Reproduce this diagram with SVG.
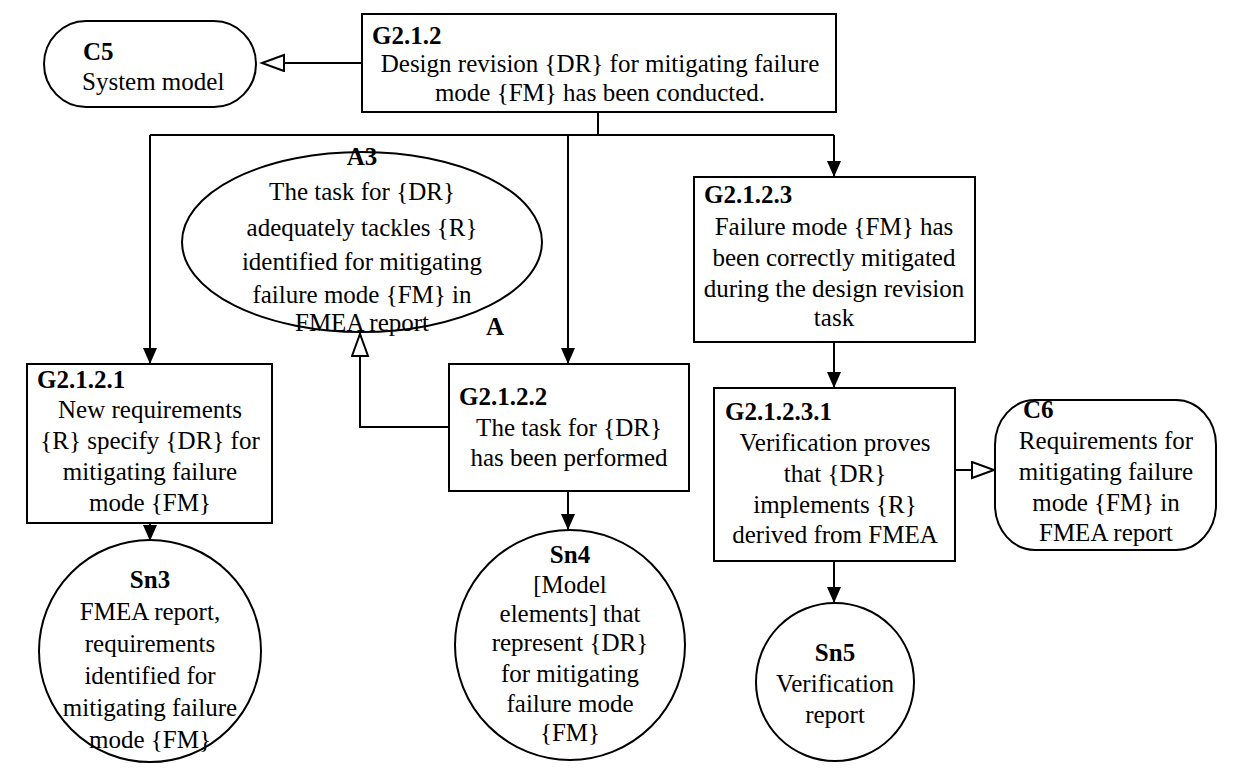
<svg xmlns="http://www.w3.org/2000/svg" width="1240" height="768" viewBox="0 0 1240 768">
<style>
.shape{fill:#fff;stroke:#000;stroke-width:2}
.t{font-family:"Liberation Serif","Times New Roman",serif;font-size:25px;fill:#000}
.c{text-anchor:middle}
.b{font-weight:bold}
.conn{fill:none;stroke:#000;stroke-width:2}
</style>
<defs>
<marker id="solid" markerUnits="userSpaceOnUse" markerWidth="18" markerHeight="16" refX="16" refY="7" orient="auto">
<path d="M0,0 L16,7 L0,14 z" fill="#000"/>
</marker>
<marker id="hollow" markerUnits="userSpaceOnUse" markerWidth="26" markerHeight="20" refX="23" refY="9" orient="auto">
<path d="M1,1 L23,9 L1,17 z" fill="#fff" stroke="#000" stroke-width="2"/>
</marker>
</defs>
<rect width="1240" height="768" fill="#fff"/>
<g id="connectors">
<path class="conn" d="M362,63 L262,63" marker-end="url(#hollow)"/>
<path class="conn" d="M598,112 L598,135"/>
<path class="conn" d="M150,135 L834,135"/>
<path class="conn" d="M150,135 L150,364" marker-end="url(#solid)"/>
<path class="conn" d="M568,135 L568,364" marker-end="url(#solid)"/>
<path class="conn" d="M834,135 L834,177" marker-end="url(#solid)"/>
<path class="conn" d="M449,427 L360,427 L360,334" marker-end="url(#hollow)"/>
<path class="conn" d="M150,523 L150,541" marker-end="url(#solid)"/>
<path class="conn" d="M568,491 L568,530" marker-end="url(#solid)"/>
<path class="conn" d="M834,342 L834,388" marker-end="url(#solid)"/>
<path class="conn" d="M834,561 L834,603" marker-end="url(#solid)"/>
<path class="conn" d="M955,470 L994,470" marker-end="url(#hollow)"/>
</g>
<g id="C5">
<rect class="shape" x="44" y="21" width="212" height="86" rx="42" ry="43"/>
<text class="t b" x="83" y="60">C5</text>
<text class="t" x="82" y="90">System model</text>
</g>
<g id="G2.1.2">
<rect class="shape" x="362" y="14" width="474" height="98"/>
<text class="t b" x="372" y="44">G2.1.2</text>
<text class="t c" x="600" y="72">Design revision {DR} for mitigating failure</text>
<text class="t c" x="600" y="101">mode {FM} has been conducted.</text>
</g>
<g id="A3">
<ellipse class="shape" cx="362" cy="242" rx="180" ry="90"/>
<text class="t c b" x="362" y="165">A3</text>
<text class="t c" x="362" y="200">The task for {DR}</text>
<text class="t c" x="362" y="236">adequately tackles {R}</text>
<text class="t c" x="362" y="270">identified for mitigating</text>
<text class="t c" x="362" y="303">failure mode {FM} in</text>
<text class="t c" x="362" y="331">FMEA report</text>
<text class="t b" x="486" y="335">A</text>
</g>
<g id="G2.1.2.1">
<rect class="shape" x="27" y="364" width="245" height="159"/>
<text class="t b" x="37" y="388">G2.1.2.1</text>
<text class="t c" x="150" y="418">New requirements</text>
<text class="t c" x="150" y="449">{R} specify {DR} for</text>
<text class="t c" x="150" y="480">mitigating failure</text>
<text class="t c" x="150" y="511">mode {FM}</text>
</g>
<g id="G2.1.2.2">
<rect class="shape" x="449" y="364" width="240" height="127"/>
<text class="t b" x="459" y="405">G2.1.2.2</text>
<text class="t c" x="569" y="436">The task for {DR}</text>
<text class="t c" x="569" y="466">has been performed</text>
</g>
<g id="G2.1.2.3">
<rect class="shape" x="694" y="177" width="281" height="165"/>
<text class="t b" x="704" y="203">G2.1.2.3</text>
<text class="t c" x="834" y="235">Failure mode {FM} has</text>
<text class="t c" x="834" y="266">been correctly mitigated</text>
<text class="t c" x="834" y="297">during the design revision</text>
<text class="t c" x="834" y="326">task</text>
</g>
<g id="G2.1.2.3.1">
<rect class="shape" x="714" y="388" width="241" height="173"/>
<text class="t b" x="725" y="420">G2.1.2.3.1</text>
<text class="t c" x="835" y="451">Verification proves</text>
<text class="t c" x="835" y="482">that {DR}</text>
<text class="t c" x="835" y="513">implements {R}</text>
<text class="t c" x="835" y="543">derived from FMEA</text>
</g>
<g id="C6">
<rect class="shape" x="995" y="400" width="221" height="150" rx="40" ry="45"/>
<text class="t b" x="1023" y="418">C6</text>
<text class="t c" x="1106" y="449">Requirements for</text>
<text class="t c" x="1106" y="480">mitigating failure</text>
<text class="t c" x="1106" y="511">mode {FM} in</text>
<text class="t c" x="1106" y="541">FMEA report</text>
</g>
<g id="Sn3">
<circle class="shape" cx="150" cy="651" r="111"/>
<text class="t c b" x="150" y="588">Sn3</text>
<text class="t c" x="150" y="620">FMEA report,</text>
<text class="t c" x="150" y="652">requirements</text>
<text class="t c" x="150" y="684">identified for</text>
<text class="t c" x="150" y="716">mitigating failure</text>
<text class="t c" x="150" y="748">mode {FM}</text>
</g>
<g id="Sn4">
<circle class="shape" cx="570" cy="645" r="115"/>
<text class="t c b" x="570" y="563">Sn4</text>
<text class="t c" x="570" y="593">[Model</text>
<text class="t c" x="570" y="622">elements] that</text>
<text class="t c" x="570" y="651">represent {DR}</text>
<text class="t c" x="570" y="682">for mitigating</text>
<text class="t c" x="570" y="712">failure mode</text>
<text class="t c" x="570" y="741">{FM}</text>
</g>
<g id="Sn5">
<circle class="shape" cx="835" cy="682" r="79"/>
<text class="t c b" x="835" y="661">Sn5</text>
<text class="t c" x="835" y="692">Verification</text>
<text class="t c" x="835" y="723">report</text>
</g>
</svg>
